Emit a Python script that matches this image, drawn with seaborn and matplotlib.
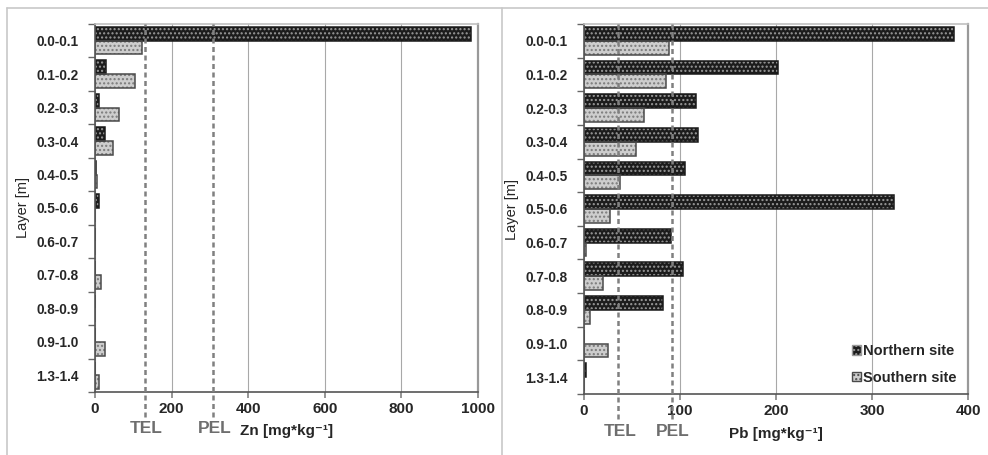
import numpy as np
import pandas as pd
import matplotlib
matplotlib.use("Agg")
import matplotlib.pyplot as plt
import seaborn as sns
from matplotlib.patches import Patch, Rectangle
from matplotlib.lines import Line2D
import matplotlib.transforms as mtransforms

# --- data ---
layers = ["0.0-0.1", "0.1-0.2", "0.2-0.3", "0.3-0.4", "0.4-0.5", "0.5-0.6",
          "0.6-0.7", "0.7-0.8", "0.8-0.9", "0.9-1.0", "1.3-1.4"]
sites = ["Northern site", "Southern site"]

zn_north = [983, 30, 11, 27, 2, 10, 1, 0, 1, 0, 0]
zn_south = [122, 104, 63, 46, 6, 1, 1, 16, 1, 27, 11]
zn_tel, zn_pel = 130, 308

pb_north = [385, 202, 117, 119, 105, 323, 91, 103, 82, 0, 2]
pb_south = [89, 85, 62, 54, 37, 27, 2, 20, 6, 25, 0]
pb_tel, pb_pel = 35.8, 91.3

# --- style ---
sns.set_theme(style="white")
plt.rcParams["font.family"] = ["Liberation Sans", "DejaVu Sans"]

DARK, LIGHT = "#1c1c1c", "#cdcdcd"
DOT_DARK, DOT_LIGHT = "#9a9a9a", "#7a7a7a"
EDGE_DARK, EDGE_LIGHT = "#1a1a1a", "#4a4a4a"
LINE_GRAY = "#808080"


def long_df(north, south):
    return pd.DataFrame({
        "Layer": layers * 2,
        "value": list(north) + list(south),
        "Site": [sites[0]] * len(layers) + [sites[1]] * len(layers),
    })


def draw_panel(ax, north, south, tel, pel, xmax, xstep, xlabel):
    df = long_df(north, south)
    sns.barplot(data=df, y="Layer", x="value", hue="Site", orient="h",
                order=layers, hue_order=sites, palette=[DARK, LIGHT],
                width=0.82, legend=False, ax=ax)

    # dotted pattern + outline
    n = len(layers)
    for i, p in enumerate(list(ax.patches)):
        northern = i < n
        p.set_hatch("....")
        p.set_edgecolor(DOT_DARK if northern else DOT_LIGHT)
        p.set_linewidth(0)
        ax.add_patch(Rectangle((p.get_x(), p.get_y()), p.get_width(), p.get_height(),
                               fill=False, lw=1.1,
                               edgecolor=EDGE_DARK if northern else EDGE_LIGHT,
                               zorder=p.get_zorder() + 0.1))

    ax.set_xlim(0, xmax)
    ax.set_ylim(n - 0.5, -0.5)
    ax.set_xticks(np.arange(0, xmax + 1, xstep))
    ax.xaxis.grid(True, color="#a8a8a8", lw=0.8)
    ax.set_axisbelow(True)

    ax.set_yticks(np.arange(n - 0.5 + 1) - 0.5, minor=True)
    ax.tick_params(axis="y", which="major", length=0, labelsize=9.8, pad=12)
    ax.tick_params(axis="y", which="minor", length=5, color="#666666", width=1, left=True)
    ax.tick_params(axis="x", which="major", length=4, color="#888888", labelsize=11, bottom=True)
    for lab in ax.get_yticklabels() + ax.get_xticklabels():
        lab.set_fontweight("bold")

    ax.spines["left"].set_color("#555555")
    ax.spines["bottom"].set_color("#555555")
    ax.spines["top"].set_color("#c0c0c0")
    ax.spines["right"].set_color("#999999")
    for s in ax.spines.values():
        s.set_linewidth(1.2)
    ax.spines["right"].set_linewidth(1.6)

    # TEL / PEL thresholds
    trans = mtransforms.blended_transform_factory(ax.transData, ax.transAxes)
    for val, name in [(tel, "TEL"), (pel, "PEL")]:
        ax.axvline(val, ymin=-0.068, ymax=1, clip_on=False, color=LINE_GRAY,
                   lw=1.8, ls=(0, (2, 1.4)), zorder=5)
        ax.text(val + xmax * 0.004, -0.1, name, transform=trans, ha="center", va="center",
                fontsize=12.5, fontweight="bold", color="#6e6e6e")

    ax.set_xlabel(xlabel, fontsize=11, fontweight="bold")
    ax.xaxis.set_label_coords(0.5, -0.088)
    ax.set_ylabel("Layer [m]", fontsize=10.5)
    ax.yaxis.set_label_coords(-0.17, 0.5)


fig = plt.figure(figsize=(9.88, 4.55), dpi=100)
ax1 = fig.add_axes([95 / 988, 63 / 455, 383 / 988, 368 / 455])
ax2 = fig.add_axes([584 / 988, 61 / 455, 384 / 988, 370 / 455])

draw_panel(ax1, zn_north, zn_south, zn_tel, zn_pel, 1000, 200, "Zn [mg*kg⁻¹]")
draw_panel(ax2, pb_north, pb_south, pb_tel, pb_pel, 400, 100, "Pb [mg*kg⁻¹]")

handles = [Patch(facecolor=DARK, edgecolor=DOT_DARK, hatch="...."),
           Patch(facecolor=LIGHT, edgecolor=EDGE_LIGHT, hatch="....")]
leg = ax2.legend(handles, sites, loc="lower right", bbox_to_anchor=(1.005, -0.01),
                 frameon=False, handlelength=0.65, handleheight=0.65, handletextpad=0.15,
                 labelspacing=0.85, prop={"weight": "bold", "size": 10.5})

# thin gray panel frame lines
for xs, ys in [([7 / 988, 1], [1 - 8 / 455] * 2),
               ([7 / 988] * 2, [0, 1 - 8 / 455]),
               ([502 / 988] * 2, [0, 1 - 8 / 455])]:
    fig.add_artist(Line2D(xs, ys, transform=fig.transFigure, color="#c8c8c8", lw=1.2))

fig.savefig("out.png", dpi=100, facecolor="white")
